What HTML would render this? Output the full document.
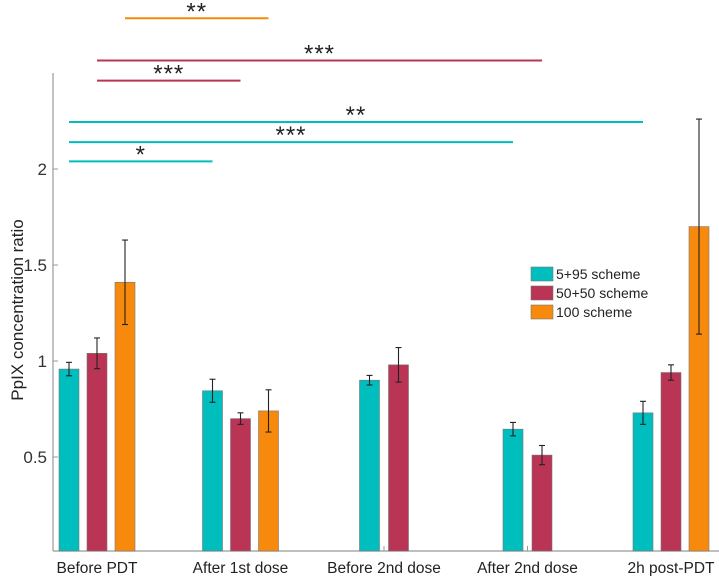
<!DOCTYPE html>
<html><head><meta charset="utf-8"><style>
body{margin:0;background:#fff;}
svg{display:block;font-family:"Liberation Sans",sans-serif;}
</style></head><body>
<svg id="c" width="719" height="576"></svg>
<script>
const categories=["Before PDT","After 1st dose","Before 2nd  dose","After 2nd dose","2h post-PDT"];
const seriesNames=["5+95 scheme","50+50 scheme","100 scheme"];
const teal=[0.958,0.845,0.90,0.645,0.73];
const tealErr=[0.035,0.06,0.025,0.035,0.06];
const crimson=[1.04,0.70,0.98,0.51,0.94];
const crimsonErr=[0.08,0.03,0.09,0.05,0.04];
const orange=[1.41,0.74,null,null,1.70];
const orangeErr=[0.22,0.11,null,null,0.56];
const yTicks=[0.5,1,1.5,2];
const sigFrom=[0,0,0,0,0,0];
const sigSeries=[0,0,0,1,1,2];
const sigTo=[1,3,4,1,3,1];
const sigLevel=[2.04,2.14,2.245,2.46,2.565,2.785];
const sigLabel=["*","***","**","***","***","**"];
const colors=["#00BEBE","#B93455","#F7890C"];
const NS="http://www.w3.org/2000/svg";
const svg=document.getElementById('c');
function y(v){return 169+(2-v)*192;}
function gx(i){return 97+i*143.5;}
function mk(t,a,p){const e=document.createElementNS(NS,t);for(const k in a)e.setAttribute(k,a[k]);(p||svg).appendChild(e);return e;}
function barX(i,s){
  const present=[0,1,2].filter(q=>vals[q][i]!=null);
  const k=present.indexOf(s);
  const step=present.length===3?28:29;
  return gx(i)+(k-(present.length-1)/2)*step;
}
const vals=[teal,crimson,orange],errs=[tealErr,crimsonErr,orangeErr];
let ax=mk('line',{x1:53,y1:73,x2:53,y2:551,stroke:'#999','stroke-width':1.2});


let bx=mk('line',{x1:53,y1:551,x2:719,y2:551,stroke:'#999','stroke-width':1.2});


yTicks.forEach(v=>{
  mk('line',{x1:53,y1:y(v),x2:58,y2:y(v),stroke:'#999'});
  const t=mk('text',{x:47,y:y(v)+6,'text-anchor':'end','font-size':17,fill:'#333'});
  t.textContent=v;
  
  
});
const yl=mk('text',{transform:'translate(23,310) rotate(-90)','text-anchor':'middle','font-size':17,fill:'#222'});
yl.textContent="PpIX concentration ratio";


categories.forEach((c,i)=>{
  const cx=gx(i);
  mk('line',{x1:cx,y1:551,x2:cx,y2:546,stroke:'#999'});
  const t=mk('text',{x:cx,y:573,'text-anchor':'middle','font-size':15.5,fill:'#222'});
  t.textContent=c;
  
  
  [0,1,2].filter(s=>vals[s][i]!=null).forEach(s=>{
    const bc=barX(i,s);
    const v=vals[s][i],e=errs[s][i];
    const r=mk('rect',{x:bc-10,y:y(v),width:20,height:551-y(v),fill:colors[s],stroke:'#777','stroke-width':0.6});
    
    
    const g=mk('g',{stroke:'#222','stroke-width':1.1});
    
    
    mk('line',{x1:bc,y1:y(v+e),x2:bc,y2:y(v-e)},g);
    mk('line',{x1:bc-3,y1:y(v+e),x2:bc+3,y2:y(v+e)},g);
    mk('line',{x1:bc-3,y1:y(v-e),x2:bc+3,y2:y(v-e)},g);
  });
});
sigFrom.forEach((f,j)=>{
  const s=sigSeries[j];
  const x1=barX(f,s), x2=barX(sigTo[j],s);
  const yy=y(sigLevel[j]);
  const l=mk('line',{x1:x1,y1:yy,x2:x2,y2:yy,stroke:colors[s],'stroke-width':2});
  
  
  const t=mk('text',{x:(x1+x2)/2,y:yy+1,'text-anchor':'middle','font-size':24,fill:'#222','letter-spacing':'1'});
  t.textContent=sigLabel[j];
  
  
});
seriesNames.forEach((n,k)=>{
  const g=mk('g',{});
  
  
  mk('rect',{x:531,y:267+k*19,width:22,height:14,fill:colors[k],stroke:'#777','stroke-width':0.6},g);
  const t=mk('text',{x:556,y:279+k*19,'font-size':14,fill:'#222'},g);
  t.textContent=n;
});
</script>
</body></html>
